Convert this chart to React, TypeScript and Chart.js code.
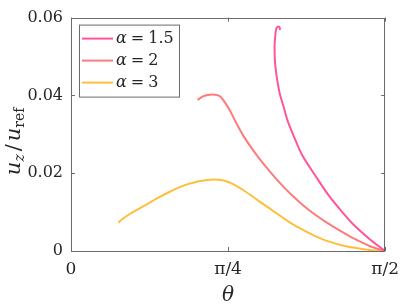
import React, { useEffect, useRef } from "react";
import { Chart, registerables } from "chart.js";

Chart.register(...registerables);

// ---- data ----
const seriesAlpha = ["1.5", "2", "3"];
const seriesColors = ["#FF559C", "#FF7B7B", "#FFBE3C"];

const theta15 = [1.0456, 1.0421, 1.0343, 1.0259, 1.021, 1.0181, 1.0186, 1.022, 1.0279, 1.0357, 1.0456, 1.0603, 1.0834, 1.1157, 1.1585, 1.2223, 1.2876, 1.3533, 1.4186, 1.4922, 1.5708];
const uz15 = [0.05684, 0.05751, 0.05768, 0.05709, 0.05502, 0.05303, 0.05004, 0.04755, 0.04506, 0.04257, 0.04008, 0.03759, 0.03344, 0.0293, 0.0244, 0.01934, 0.01436, 0.01021, 0.00647, 0.00311, 0];

const theta2 = [0.6332, 0.6578, 0.6823, 0.7069, 0.7314, 0.7476, 0.7721, 0.7967, 0.8212, 0.8458, 0.8703, 0.9032, 0.9439, 0.9852, 1.0259, 1.0652, 1.1079, 1.1486, 1.1894, 1.2306, 1.2714, 1.3533, 1.4186, 1.4922, 1.5708];
const uz2 = [0.03884, 0.03966, 0.04008, 0.04026, 0.04008, 0.03966, 0.03802, 0.03593, 0.03341, 0.03107, 0.02895, 0.02644, 0.0236, 0.02096, 0.01855, 0.01636, 0.01419, 0.0123, 0.01056, 0.00899, 0.00757, 0.00498, 0.00309, 0.00129, 0];

const theta3 = [0.2371, 0.2553, 0.2896, 0.3387, 0.3878, 0.4369, 0.486, 0.535, 0.5841, 0.6332, 0.6823, 0.7167, 0.7559, 0.7903, 0.8198, 0.8625, 0.9032, 0.9439, 0.9852, 1.0259, 1.0652, 1.1079, 1.1486, 1.1894, 1.2306, 1.2714, 1.3533, 1.4186, 1.4922, 1.5708];
const uz3 = [0.00729, 0.00814, 0.00939, 0.01083, 0.01227, 0.01369, 0.01504, 0.01623, 0.01718, 0.01788, 0.01827, 0.01835, 0.01817, 0.01768, 0.01693, 0.01561, 0.01419, 0.0127, 0.0112, 0.00978, 0.00834, 0.0069, 0.00573, 0.00466, 0.00361, 0.00274, 0.00149, 0.00082, 0.00025, 0];

const xTickValues = [0, Math.PI / 4, Math.PI / 2];
const xTickLabels = ["0", "π/4", "π/2"];
const yTickValues = [0, 0.02, 0.04, 0.06];
const yTickLabels = ["0", "0.02", "0.04", "0.06"];

const SERIF = "DejaVu Serif";
const AXIS_COLOR = "#6b6b6b";
const TEXT_COLOR = "#262626";

const toPoints = (xs: number[], ys: number[]) => xs.map((x, i) => ({ x, y: ys[i] }));

const framePlugin = {
  id: "frameTicks",
  afterDatasetsDraw(chart: any) {
    const { ctx, chartArea: a, scales } = chart;
    ctx.save();
    ctx.strokeStyle = AXIS_COLOR;
    ctx.lineWidth = 1;
    ctx.strokeRect(Math.round(a.left) + 0.5, Math.round(a.top) + 0.5, Math.round(a.right - a.left) - 1, Math.round(a.bottom - a.top));
    const L = 4;
    ctx.beginPath();
    scales.x.ticks.forEach((t: any) => {
      const px = Math.round(scales.x.getPixelForValue(t.value)) + 0.5;
      ctx.moveTo(px, a.bottom);
      ctx.lineTo(px, a.bottom - L);
      ctx.moveTo(px, a.top);
      ctx.lineTo(px, a.top + L);
    });
    scales.y.ticks.forEach((t: any) => {
      const py = Math.round(scales.y.getPixelForValue(t.value)) + 0.5;
      ctx.moveTo(a.left, py);
      ctx.lineTo(a.left + L, py);
      ctx.moveTo(a.right, py);
      ctx.lineTo(a.right - L, py);
    });
    ctx.stroke();
    ctx.restore();
  },
  afterDraw(chart: any) {
    const { ctx, chartArea: a } = chart;
    ctx.save();
    // ---- legend box ----
    const bx = a.left + 8, by = a.top + 7, bw = 100, bh = 72;
    ctx.fillStyle = "#ffffff";
    ctx.fillRect(bx, by, bw, bh);
    ctx.strokeStyle = AXIS_COLOR;
    ctx.lineWidth = 1;
    ctx.strokeRect(bx + 0.5, by + 0.5, bw, bh);
    ctx.textBaseline = "middle";
    chart.data.datasets.forEach((ds: any, i: number) => {
      const cy = by + 14 + i * 22;
      ctx.strokeStyle = ds.borderColor;
      ctx.lineWidth = 2;
      ctx.beginPath();
      ctx.moveTo(bx + 3, cy);
      ctx.lineTo(bx + 34, cy);
      ctx.stroke();
      ctx.fillStyle = TEXT_COLOR;
      ctx.font = `italic 16px "${SERIF}"`;
      ctx.textAlign = "left";
      let x = bx + 37;
      ctx.fillText("α", x, cy);
      x += ctx.measureText("α").width + 4;
      ctx.font = `16px "${SERIF}"`;
      ctx.fillText("=", x, cy);
      x += ctx.measureText("=").width + 4;
      ctx.fillText(seriesAlpha[i], x, cy);
    });
    // ---- y axis title: u_z / u_ref ----
    const cy = (a.top + a.bottom) / 2 + 7;
    ctx.translate(20, cy);
    ctx.rotate(-Math.PI / 2);
    ctx.fillStyle = TEXT_COLOR;
    ctx.textBaseline = "alphabetic";
    const parts: [string, string, number][] = [
      ["u", `italic 21px "${SERIF}"`, 0],
      ["z", `italic 14px "${SERIF}"`, 4],
      ["/", `21px "${SERIF}"`, 0],
      ["u", `italic 21px "${SERIF}"`, 0],
      ["ref", `14px "${SERIF}"`, 4],
    ];
    const gaps = [0, 3, 3, 0, 0];
    let total = 0;
    parts.forEach(([s, f], i) => {
      ctx.font = f;
      total += ctx.measureText(s).width + gaps[i];
    });
    let x = -total / 2;
    parts.forEach(([s, f, dy], i) => {
      ctx.font = f;
      ctx.fillText(s, x, dy);
      x += ctx.measureText(s).width + gaps[i];
    });
    ctx.restore();
  },
};

export default function App() {
  const canvasRef = useRef<HTMLCanvasElement | null>(null);

  useEffect(() => {
    if (!canvasRef.current) return;
    const mk = (xs: number[], ys: number[], i: number) => ({
      label: `α = ${seriesAlpha[i]}`,
      data: toPoints(xs, ys),
      borderColor: seriesColors[i],
      backgroundColor: seriesColors[i],
      borderWidth: 2,
      pointRadius: 0,
      showLine: true,
      tension: 0.3,
      fill: false,
    });
    const chart = new Chart(canvasRef.current, {
      type: "scatter",
      data: {
        datasets: [mk(theta15, uz15, 0), mk(theta2, uz2, 1), mk(theta3, uz3, 2)],
      },
      options: {
        animation: false,
        responsive: true,
        maintainAspectRatio: false,
        layout: { padding: { top: 10, right: 16, left: 0, bottom: 0 } },
        plugins: { legend: { display: false }, tooltip: { enabled: false } },
        scales: {
          x: {
            type: "linear",
            min: 0,
            max: Math.PI / 2,
            grid: { display: false, drawTicks: false },
            border: { display: false },
            afterBuildTicks: (s: any) => {
              s.ticks = xTickValues.map((v) => ({ value: v }));
            },
            afterFit: (s: any) => {
              s.height = 53;
            },
            ticks: {
              autoSkip: false,
              maxRotation: 0,
              padding: 8,
              color: TEXT_COLOR,
              font: { family: SERIF, size: 17 },
              callback: (_v: any, i: number) => xTickLabels[i],
            },
            title: {
              display: true,
              text: "θ",
              color: TEXT_COLOR,
              font: { family: SERIF, size: 20, style: "italic", lineHeight: 1 },
              padding: { top: 0, bottom: -2 },
            },
          },
          y: {
            type: "linear",
            min: 0,
            max: 0.06,
            grid: { display: false, drawTicks: false },
            border: { display: false },
            afterBuildTicks: (s: any) => {
              s.ticks = yTickValues.map((v) => ({ value: v }));
            },
            afterFit: (s: any) => {
              s.width = 71;
            },
            ticks: {
              autoSkip: false,
              padding: 8,
              color: TEXT_COLOR,
              font: { family: SERIF, size: 16 },
              callback: (_v: any, i: number) => yTickLabels[i],
            },
          },
        },
      },
      plugins: [framePlugin],
    });
    let alive = true;
    const fonts: any = (document as any).fonts;
    if (fonts && fonts.load) {
      Promise.all([fonts.load(`16px "DejaVu Serif"`), fonts.load(`italic 16px "DejaVu Serif"`)])
        .catch(() => null)
        .then(() => {
          if (alive) chart.update();
        });
    }
    return () => {
      alive = false;
      chart.destroy();
    };
  }, []);

  return (
    <div style={{ position: "fixed", left: 0, top: 0, width: 407, height: 304, background: "#fff" }}>
      <canvas ref={canvasRef} />
    </div>
  );
}
